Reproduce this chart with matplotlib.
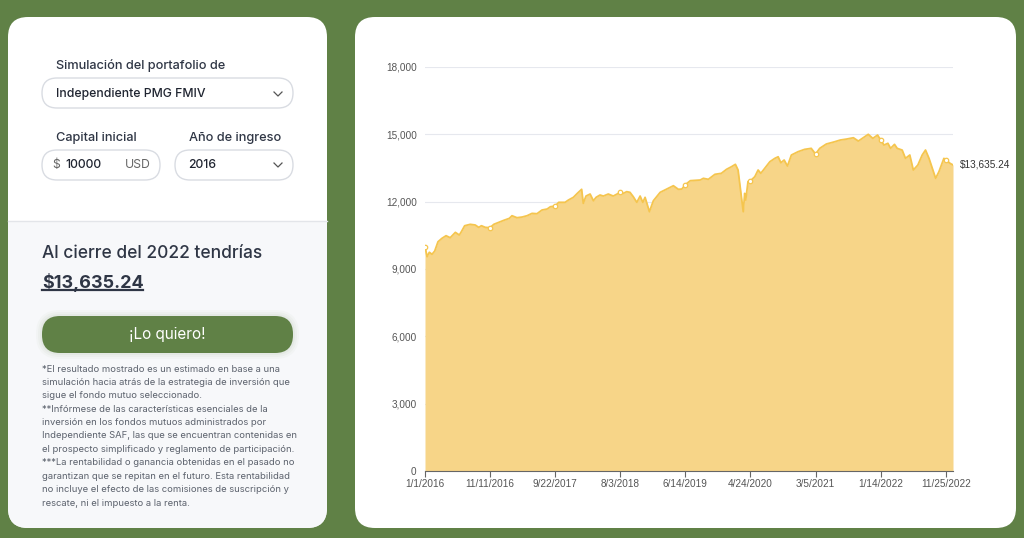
import numpy as np
import pandas as pd
import matplotlib.pyplot as plt
from matplotlib.patches import FancyBboxPatch, Rectangle

# portfolio value
dates = ["2016-01-01", "2016-01-11", "2016-01-22", "2016-02-04", "2016-02-17", "2016-03-04",
         "2016-03-23", "2016-04-12", "2016-05-02", "2016-05-27", "2016-06-15", "2016-06-25",
         "2016-07-11", "2016-08-07", "2016-08-31", "2016-09-17", "2016-09-30", "2016-10-19",
         "2016-11-11", "2016-11-29", "2016-12-23", "2017-01-16", "2017-02-12", "2017-02-25",
         "2017-03-21", "2017-04-15", "2017-05-09", "2017-06-02", "2017-06-26", "2017-07-20",
         "2017-08-14", "2017-08-30", "2017-09-22", "2017-10-09", "2017-11-09", "2017-11-25",
         "2017-12-19", "2018-01-07", "2018-01-28", "2018-02-05", "2018-02-18", "2018-03-10",
         "2018-03-26", "2018-04-08", "2018-04-27", "2018-05-13", "2018-06-06", "2018-06-30",
         "2018-08-03", "2018-08-18", "2018-09-03", "2018-09-19", "2018-10-05", "2018-10-22",
         "2018-11-07", "2018-11-20", "2018-12-01", "2018-12-22", "2019-01-10", "2019-02-12",
         "2019-03-16", "2019-04-17", "2019-05-11", "2019-05-28", "2019-06-14", "2019-07-08",
         "2019-08-25", "2019-09-09", "2019-10-03", "2019-11-04", "2019-12-05", "2019-12-30",
         "2020-01-23", "2020-02-11", "2020-02-24", "2020-03-03", "2020-03-20", "2020-03-27",
         "2020-04-01", "2020-04-12", "2020-04-24", "2020-05-15", "2020-05-31", "2020-06-13",
         "2020-07-02", "2020-07-27", "2020-08-20", "2020-09-05", "2020-09-18", "2020-10-04",
         "2020-10-20", "2020-11-08", "2020-12-10", "2021-01-11", "2021-02-12", "2021-03-05",
         "2021-03-25", "2021-04-26", "2021-06-06", "2021-07-02", "2021-08-03", "2021-09-04",
         "2021-09-28", "2021-10-22", "2021-11-15", "2021-12-07", "2021-12-30", "2022-01-14",
         "2022-01-30", "2022-02-18", "2022-03-03", "2022-03-22", "2022-04-04", "2022-04-28",
         "2022-05-14", "2022-06-04", "2022-06-21", "2022-07-13", "2022-08-03", "2022-08-19",
         "2022-09-05", "2022-09-21", "2022-10-07", "2022-10-23", "2022-11-16", "2022-11-25",
         "2022-12-16", "2022-12-30"]
values = [10000, 9550, 9745, 9655, 9800, 10215,
          10366, 10483, 10394, 10632, 10514, 10661,
          10928, 10990, 10960, 10855, 10928, 10855,
          10840, 10990, 11078, 11167, 11256, 11374,
          11285, 11315, 11374, 11478, 11463, 11627,
          11672, 11775, 11805, 11970, 11970, 12073,
          12193, 12370, 12550, 11925, 12250, 12340,
          12040, 12193, 12296, 12250, 12340, 12250,
          12415, 12370, 12445, 12415, 12220, 11970,
          12250, 11970, 12193, 11552, 12040, 12415,
          12563, 12710, 12550, 12563, 12760, 12935,
          12965, 13040, 12995, 13218, 13262, 13440,
          13557, 13663, 13410, 12817, 11552, 12370,
          12073, 12890, 12930, 13113, 13410, 13262,
          13485, 13781, 13930, 14000, 13735, 13855,
          13588, 14078, 14225, 14330, 14375, 14122,
          14375, 14568, 14670, 14745, 14790, 14848,
          14700, 14848, 15000, 14820, 14968, 14745,
          14523, 14600, 14375, 14553, 14375, 14300,
          13930, 14078, 13410, 13632, 14078, 14300,
          13930, 13485, 13040, 13336, 13930, 13855,
          13707, 13635.24]
tick_labels = ["1/1/2016", "11/11/2016", "9/22/2017", "8/3/2018", "6/14/2019",
               "4/24/2020", "3/5/2021", "1/14/2022", "11/25/2022"]
y_ticks = [0, 3000, 6000, 9000, 12000, 15000, 18000]
final_label = "$13,635.24"

notes = ["*El resultado mostrado es un estimado en base a una",
         "simulación hacia atrás de la estrategia de inversión que",
         "sigue el fondo mutuo seleccionado.",
         "**Infórmese de las características esenciales de la",
         "inversión en los fondos mutuos administrados por",
         "Independiente SAF, las que se encuentran contenidas en",
         "el prospecto simplificado y reglamento de participación.",
         "***La rentabilidad o ganancia obtenidas en el pasado no",
         "garantizan que se repitan en el futuro. Esta rentabilidad",
         "no incluye el efecto de las comisiones de suscripción y",
         "rescate, ni el impuesto a la renta."]

green = "#608146"
dark = "#2f3645"
ui_font = ["Inter", "DejaVu Sans"]

fig = plt.figure(figsize=(10.24, 5.38), dpi=100)
fig.patch.set_facecolor(green)

# background layer in pixel units
bg = fig.add_axes([0, 0, 1, 1])
bg.set_xlim(0, 1024)
bg.set_ylim(538, 0)
bg.axis("off")

card = FancyBboxPatch((8, 17), 319, 511, boxstyle="round,pad=0,rounding_size=20",
                      fc="white", ec="none")
bg.add_patch(card)
lower = Rectangle((8, 221), 319, 310, fc="#f7f8fa", ec="none")
bg.add_patch(lower)
lower.set_clip_path(card)
bg.plot([8, 327], [220.5, 220.5], color="#e3e5e9", lw=1)

bg.add_patch(FancyBboxPatch((355, 17), 661, 511, boxstyle="round,pad=0,rounding_size=20",
                            fc="white", ec="none"))

# form fields
bg.text(56, 66, "Simulación del portafolio de", fontsize=9.2, color=dark, va="center",
        weight=500, family=ui_font)
bg.add_patch(FancyBboxPatch((42, 78), 251, 30, boxstyle="round,pad=0,rounding_size=15",
                            fc="white", ec="#d9dce2", lw=1))
bg.text(56, 94, "Independiente PMG FMIV", fontsize=8.8, color="#1f2430", va="center",
        weight=500, family=ui_font)
bg.plot([274, 278, 282], [92, 96, 92], color="#555", lw=0.9)

bg.text(56, 138, "Capital inicial", fontsize=9.2, color=dark, va="center", weight=500, family=ui_font)
bg.text(189, 138, "Año de ingreso", fontsize=9.2, color=dark, va="center", weight=500, family=ui_font)
bg.add_patch(FancyBboxPatch((42, 150), 118, 30, boxstyle="round,pad=0,rounding_size=15",
                            fc="white", ec="#d9dce2", lw=1))
bg.text(52, 165, "$", fontsize=8.8, color="#666", va="center", family=ui_font)
bg.text(65, 165, "10000", fontsize=8.8, color="#1f2430", va="center", weight=500, family=ui_font)
bg.text(151, 165, "USD", fontsize=8.8, color="#666", va="center", ha="right", family=ui_font)
bg.add_patch(FancyBboxPatch((175, 150), 118, 30, boxstyle="round,pad=0,rounding_size=15",
                            fc="white", ec="#d9dce2", lw=1))
bg.text(188, 165, "2016", fontsize=8.8, color="#1f2430", va="center", weight=500, family=ui_font)
bg.plot([274, 278, 282], [163, 167, 163], color="#555", lw=0.9)

# result block
bg.text(42, 254, "Al cierre del 2022 tendrías", fontsize=12.5, color=dark, va="center",
        weight=500, family=ui_font)
bg.text(42, 282, final_label, fontsize=13, color=dark, va="center", weight="bold", family=ui_font)
bg.plot([42, 143], [290, 290], color=dark, lw=1.6)

for grow, a in [(6, 0.03), (4, 0.04), (2, 0.05)]:
    bg.add_patch(FancyBboxPatch((42 - grow, 316 - grow), 251 + 2 * grow, 37 + 2 * grow,
                                boxstyle="round,pad=0,rounding_size=%d" % (18 + grow),
                                fc=green, ec="none", alpha=a))
bg.add_patch(FancyBboxPatch((42, 316), 251, 37, boxstyle="round,pad=0,rounding_size=18",
                            fc=green, ec="none"))
bg.text(167.5, 334, "¡Lo quiero!", fontsize=11, color="white", va="center", ha="center", family=ui_font)

for i, line in enumerate(notes):
    bg.text(42, 369 + i * 13.4, line, fontsize=6.8, color="#5c626d", va="center", family=ui_font)

# chart
d = pd.to_datetime(dates)
v = np.array(values)
ticks = pd.date_range(dates[0], periods=len(tick_labels), freq="315D")

ax = fig.add_axes([425 / 1024, 1 - 471 / 538, (953 - 425) / 1024, (471 - 67) / 538])
ax.set_facecolor("none")
ax.fill_between(d, v, 0, color="#f7d588", lw=0, zorder=2)
ax.plot(d, v, color="#f5c54e", lw=1.3, zorder=3)
on_tick = np.isin(d, ticks)
ax.plot(d[on_tick], v[on_tick], "o", ms=3.2, mfc="white", mec="#f5c54e", mew=0.9, zorder=4)
ax.annotate(final_label, (d[-1], v[-1]), xytext=(7, 0), textcoords="offset pixels",
            va="center", fontsize=7.2, color="#333", family="Liberation Sans")

ax.set_xlim(d[0], d[-1])
ax.set_ylim(0, 18000)
ax.set_yticks(y_ticks)
ax.set_yticklabels([f"{t:,}" for t in y_ticks])
ax.set_xticks(ticks)
ax.set_xticklabels(tick_labels)
ax.grid(axis="y", color="#e6e8ee", lw=0.8, zorder=1)
ax.set_axisbelow(True)
for s in ["top", "right", "left"]:
    ax.spines[s].set_visible(False)
ax.spines["bottom"].set_color("#666")
ax.spines["bottom"].set_linewidth(0.8)
ax.tick_params(axis="y", length=0, pad=6, labelsize=7.2, labelcolor="#555")
ax.tick_params(axis="x", length=4, width=0.8, color="#666", pad=2, labelsize=7.2, labelcolor="#555")
for lab in ax.get_xticklabels() + ax.get_yticklabels():
    lab.set_family("Liberation Sans")

fig.savefig("out.png", dpi=100, facecolor=fig.get_facecolor())
